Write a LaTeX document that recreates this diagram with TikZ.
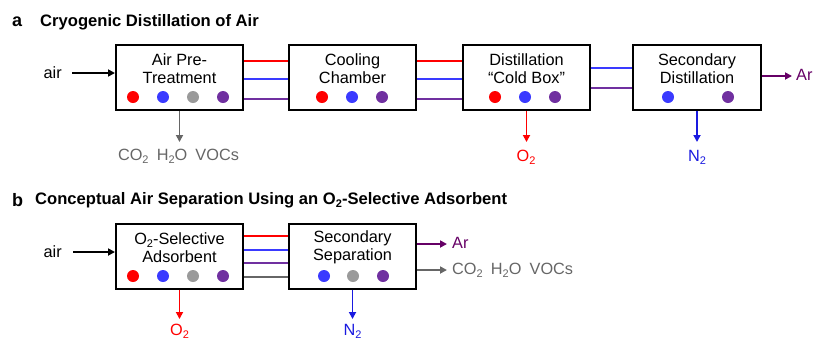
\documentclass[tikz,border=0pt]{standalone}
\usepackage{fontspec}
\setmainfont{Liberation Sans}
\usetikzlibrary{arrows.meta}
\definecolor{cred}{HTML}{FF0000}
\definecolor{cblue}{HTML}{3A3AFF}
\definecolor{cgray}{HTML}{9A9A9A}
\definecolor{cpurple}{HTML}{7030A0}
\definecolor{cdark}{HTML}{666666}
\definecolor{car}{HTML}{660066}
\definecolor{cnav}{HTML}{1A1AE0}
\newcommand\sbs[1]{\raisebox{-0.35ex}{\fontsize{11}{11}\selectfont #1}}
\begin{document}
\begin{tikzpicture}[x=1pt,y=-1pt,
  box/.style={draw=black,line width=2pt,minimum width=#1,minimum height=65pt,inner sep=0pt},
  boxtext/.style={align=center,font=\fontsize{16.3}{17.5}\selectfont,inner sep=0pt},
  dot/.style={circle,fill=#1,minimum size=12pt,inner sep=0pt},
  pipe/.style={line width=1.8pt},
  arr/.style={line width=1.7pt,-{Triangle[length=7pt,width=7pt]}},
  lbl/.style={font=\fontsize{16.3}{17}\selectfont,inner sep=0pt},
  ttl/.style={font=\bfseries\fontsize{16.6}{17}\selectfont,inner sep=0pt,anchor=west}]
\useasboundingbox (0,0) rectangle (813,341);
% ---------- panel a ----------
\node[ttl,font=\bfseries\fontsize{18}{18}\selectfont] (la) at (12,22) {a};
\node[ttl] (ta) at (40,22) {Cryogenic Distillation of Air};
\node[box=127pt] (A1) at (179.5,77.5) {};
\node[box=127pt] (A2) at (352.5,77.5) {};
\node[box=127pt] (A3) at (526.5,77.5) {};
\node[box=128pt] (A4) at (697,77.5) {};
\node[boxtext] (A1t) at (179.5,68.5) {Air Pre-\\Treatment};
\node[boxtext] (A2t) at (352.5,68.5) {Cooling\\Chamber};
\node[boxtext] (A3t) at (526.5,68.5) {Distillation\\“Cold Box”};
\node[boxtext] (A4t) at (697,68.5) {Secondary\\Distillation};
\node[dot=cred] (d11) at (133,97) {};
\node[dot=cblue] (d12) at (163,97) {};
\node[dot=cgray] (d13) at (193,97) {};
\node[dot=cpurple] (d14) at (223,97) {};
\node[dot=cred] (d21) at (322,97) {};
\node[dot=cblue] (d22) at (352,97) {};
\node[dot=cpurple] (d23) at (382,97) {};
\node[dot=cred] (d31) at (495,97) {};
\node[dot=cblue] (d32) at (525,97) {};
\node[dot=cpurple] (d33) at (555,97) {};
\node[dot=cblue] (d41) at (668,97) {};
\node[dot=cpurple] (d42) at (728,97) {};
\foreach \u/\v in {A1/A2,A2/A3}{
  \draw[pipe,cred] ([yshift=16.5pt]\u.east) -- ([yshift=16.5pt]\v.west);
  \draw[pipe,cblue] ([yshift=-1.5pt]\u.east) -- ([yshift=-1.5pt]\v.west);
  \draw[pipe,cpurple] ([yshift=-21.5pt]\u.east) -- ([yshift=-21.5pt]\v.west);
}
\draw[pipe,cblue] ([yshift=9.5pt]A3.east) -- ([yshift=9.5pt]A4.west);
\draw[pipe,cpurple] ([yshift=-10.5pt]A3.east) -- ([yshift=-10.5pt]A4.west);
\node[lbl,anchor=east] (aira) at (62,73) {air};
\coordinate (aira0) at (72,73);
\draw[arr,black] (aira0) -- (A1.west |- aira0);
\coordinate (A1e) at (179.5,142);
\draw[arr,cdark] (A1.south) -- (A1e);
\node[lbl,text=cdark,anchor=center] (waste) at (178.5,156) {CO\sbs{2}\,\,\,H\sbs{2}O\,\,\,VOCs};
\coordinate (A3e) at (526.5,142);
\draw[arr,cred] (A3.south) -- (A3e);
\node[lbl,text=cred] (o2a) at (526,157) {O\sbs{2}};
\coordinate (A4e) at (697,142);
\draw[arr,cnav] (A4.south) -- (A4e);
\node[lbl,text=cnav] (n2a) at (697,157) {N\sbs{2}};
\coordinate (Are) at (792,76);
\draw[arr,car] (A4.east |- Are) -- (Are);
\node[lbl,text=car,anchor=west] (ara) at (796,75) {Ar};
% ---------- panel b ----------
\node[ttl,font=\bfseries\fontsize{18}{18}\selectfont] (lb) at (12,200) {b};
\node[ttl] (tb) at (35,200) {Conceptual Air Separation Using an O\sbs{2}-Selective Adsorbent};
\node[box=127pt] (B1) at (179.5,256) {};
\node[box=127pt] (B2) at (352.5,256) {};
\node[boxtext] (B1t) at (179.5,247.5) {O\sbs{2}-Selective\\Adsorbent};
\node[boxtext] (B2t) at (352.5,247.5) {Secondary\\Separation};
\node[dot=cred] (e11) at (133,276) {};
\node[dot=cblue] (e12) at (163,276) {};
\node[dot=cgray] (e13) at (193,276) {};
\node[dot=cpurple] (e14) at (223,276) {};
\node[dot=cblue] (e21) at (324,276) {};
\node[dot=cgray] (e22) at (353,276) {};
\node[dot=cpurple] (e23) at (383,276) {};
\draw[pipe,cred] ([yshift=20pt]B1.east) -- ([yshift=20pt]B2.west);
\draw[pipe,cblue] ([yshift=6pt]B1.east) -- ([yshift=6pt]B2.west);
\draw[pipe,cpurple] ([yshift=-7pt]B1.east) -- ([yshift=-7pt]B2.west);
\draw[pipe,cdark] ([yshift=-21pt]B1.east) -- ([yshift=-21pt]B2.west);
\node[lbl,anchor=east] (airb) at (62,252) {air};
\coordinate (airb0) at (73,252);
\draw[arr,black] (airb0) -- (B1.west |- airb0);
\coordinate (Bare) at (447,244);
\draw[arr,car] (B2.east |- Bare) -- (Bare);
\node[lbl,text=car,anchor=west] (arb) at (452,243) {Ar};
\coordinate (Bwe) at (447,270);
\draw[arr,cdark] (B2.east |- Bwe) -- (Bwe);
\node[lbl,text=cdark,anchor=west] (wasteb) at (452,270) {CO\sbs{2}\,\,\,H\sbs{2}O\,\,\,VOCs};
\coordinate (B1e) at (179.5,319);
\draw[arr,cred] (B1.south) -- (B1e);
\node[lbl,text=cred] (o2b) at (179.5,331) {O\sbs{2}};
\coordinate (B2e) at (352.5,319);
\draw[arr,cnav] (B2.south) -- (B2e);
\node[lbl,text=cnav] (n2b) at (352.5,331) {N\sbs{2}};
\end{tikzpicture}
\end{document}
